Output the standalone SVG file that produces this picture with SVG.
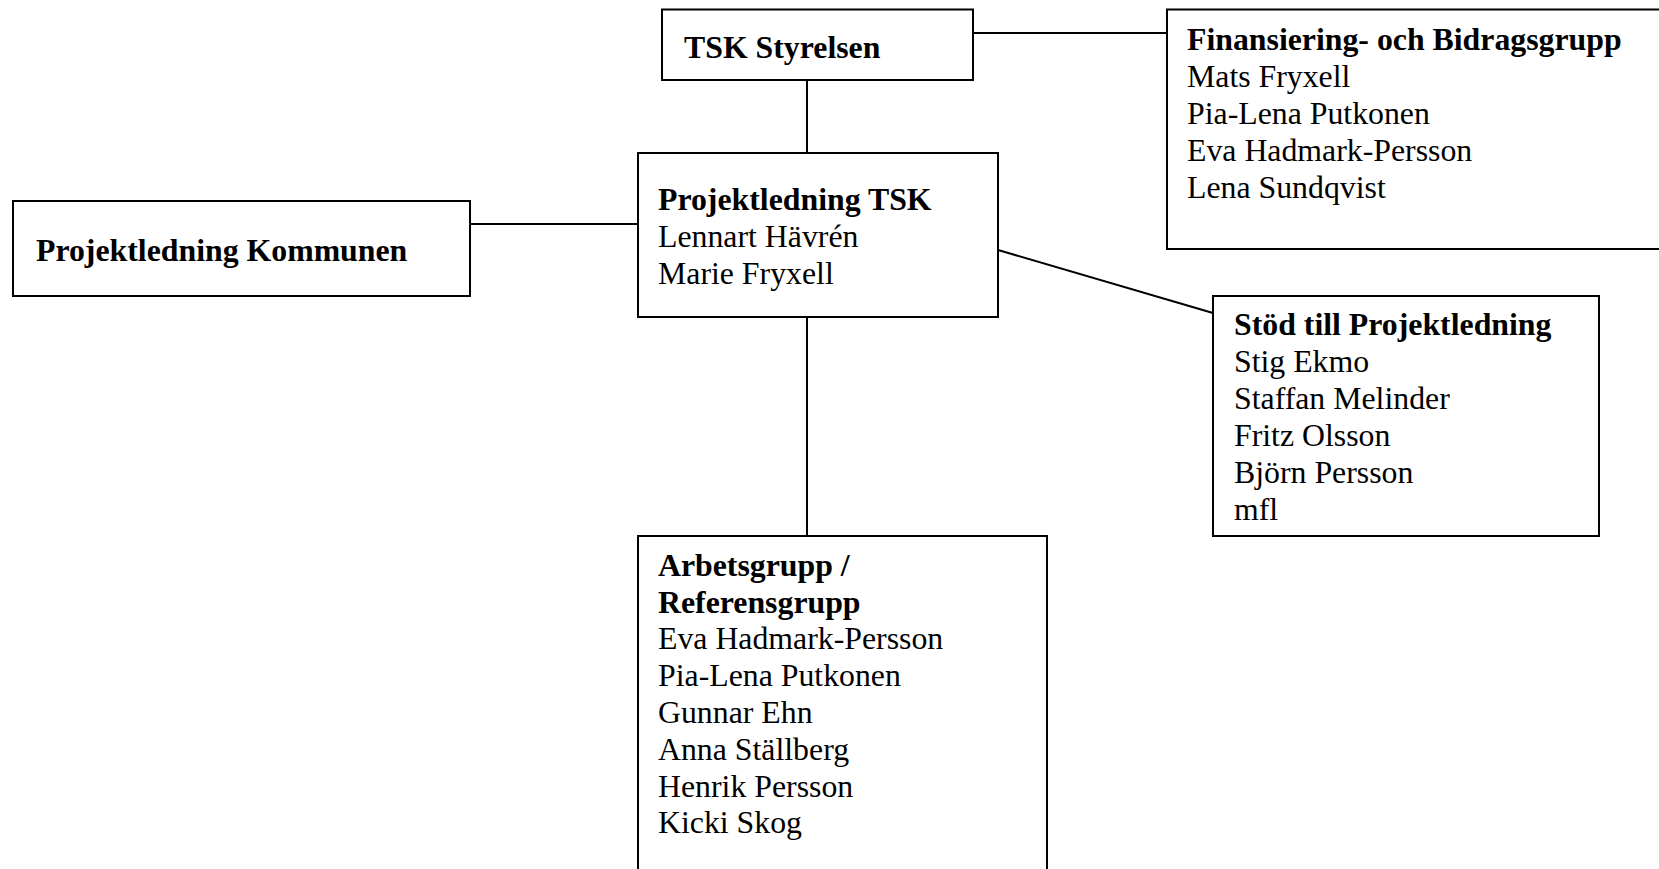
<svg xmlns="http://www.w3.org/2000/svg" width="1659" height="869" viewBox="0 0 1659 869">
<style>
  rect.box { fill: #ffffff; stroke: #000000; stroke-width: 2; }
  .conn line { stroke: #000000; stroke-width: 2; }
  text { font-family: "Liberation Serif", "Times New Roman", serif; font-size: 31.8px; fill: #000000; }
  .b { font-weight: bold; }
</style>
<rect width="1659" height="869" fill="#ffffff"/>
<g id="connectors" class="conn">
  <line x1="973" y1="33" x2="1167" y2="33"/>
  <line x1="807" y1="80" x2="807" y2="153"/>
  <line x1="470" y1="224" x2="638" y2="224"/>
  <line x1="998" y1="250" x2="1213" y2="313"/>
  <line x1="807" y1="317" x2="807" y2="536"/>
</g>
<g id="tsk-styrelsen">
  <rect class="box" x="662" y="9.5" width="311" height="70.5"/>
  <text class="b" x="684" y="58">TSK Styrelsen</text>
</g>
<g id="finansiering">
  <rect class="box" x="1167" y="9.5" width="540" height="239.5"/>
  <text class="b" x="1187" y="50">Finansiering- och Bidragsgrupp</text>
  <text x="1187" y="87">Mats Fryxell</text>
  <text x="1187" y="124">Pia-Lena Putkonen</text>
  <text x="1187" y="161">Eva Hadmark-Persson</text>
  <text x="1187" y="198">Lena Sundqvist</text>
</g>
<g id="projektledning-kommunen">
  <rect class="box" x="13" y="201" width="457" height="95"/>
  <text class="b" x="36" y="261">Projektledning Kommunen</text>
</g>
<g id="projektledning-tsk">
  <rect class="box" x="638" y="153" width="360" height="164"/>
  <text class="b" x="658" y="210">Projektledning TSK</text>
  <text x="658" y="247">Lennart Hävrén</text>
  <text x="658" y="284">Marie Fryxell</text>
</g>
<g id="stod">
  <rect class="box" x="1213" y="296" width="386" height="240"/>
  <text class="b" x="1234" y="335">Stöd till Projektledning</text>
  <text x="1234" y="372">Stig Ekmo</text>
  <text x="1234" y="409">Staffan Melinder</text>
  <text x="1234" y="446">Fritz Olsson</text>
  <text x="1234" y="483">Björn Persson</text>
  <text x="1234" y="520">mfl</text>
</g>
<g id="arbetsgrupp">
  <rect class="box" x="638" y="536" width="409" height="360"/>
  <text class="b" x="658" y="576">Arbetsgrupp /</text>
  <text class="b" x="658" y="613">Referensgrupp</text>
  <text x="658" y="649">Eva Hadmark-Persson</text>
  <text x="658" y="686">Pia-Lena Putkonen</text>
  <text x="658" y="723">Gunnar Ehn</text>
  <text x="658" y="760">Anna Ställberg</text>
  <text x="658" y="797">Henrik Persson</text>
  <text x="658" y="833">Kicki Skog</text>
</g>
</svg>
